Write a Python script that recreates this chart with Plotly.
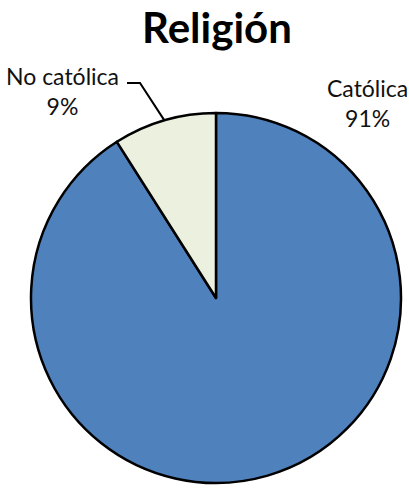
import math
import plotly.graph_objects as go

# Religion breakdown (percent)
labels = ["Católica", "No católica"]
values = [91, 9]
colors = ["#4F81BD", "#EBF1DE"]

W, H = 409, 488
FONT = "Lato, 'Open Sans', sans-serif"

# pie area in pixels: centre and radius
cx, cy, r = 216, 298, 185
dom_x = [(cx - r) / W, (cx + r) / W]
dom_y = [1 - (cy + r) / H, 1 - (cy - r) / H]

fig = go.Figure(
    go.Pie(
        labels=labels,
        values=values,
        sort=False,
        direction="clockwise",
        rotation=0,
        marker=dict(colors=colors, line=dict(color="black", width=2.5)),
        textinfo="none",
        hoverinfo="label+percent",
        domain=dict(x=dom_x, y=dom_y),
        showlegend=False,
    )
)


def px(x, y):
    return x / W, 1 - y / H


total = sum(values)
pct = [round(100 * v / total) for v in values]

# "Católica" label at the upper right
ax, ay = px(367, 103)
fig.add_annotation(
    x=ax, y=ay, xref="paper", yref="paper", xanchor="center", yanchor="middle",
    text=f"{labels[0]}<br>{pct[0]}%", showarrow=False,
    font=dict(family=FONT, size=23, color="#111"), align="center",
)

# "No católica" label with a leader line to the slice midpoint
bx, by = px(63, 91)
fig.add_annotation(
    x=bx, y=by, xref="paper", yref="paper", xanchor="center", yanchor="middle",
    text=f"{labels[1]}<br>{pct[1]}%", showarrow=False,
    font=dict(family=FONT, size=23, color="#111"), align="center",
)

mid_frac = (values[0] + values[1] / 2) / total
ang = 2 * math.pi * mid_frac
ex = cx + r * math.sin(ang)
ey = cy - r * math.cos(ang)
p0 = px(127, 83)
p1 = px(140, 83)
p2 = px(ex, ey)
fig.add_shape(
    type="path", xref="paper", yref="paper",
    path=f"M {p0[0]} {p0[1]} L {p1[0]} {p1[1]} L {p2[0]} {p2[1]}",
    line=dict(color="black", width=2),
)

fig.update_layout(
    width=W, height=H,
    margin=dict(l=0, r=0, t=0, b=0),
    paper_bgcolor="white",
    plot_bgcolor="white",
    title=dict(
        text="<b>Religión</b>", x=217 / W, xanchor="center",
        y=1 - 28 / H, yanchor="middle",
        font=dict(family=FONT, size=42, color="black"),
    ),
)

fig.write_html("out.html")
